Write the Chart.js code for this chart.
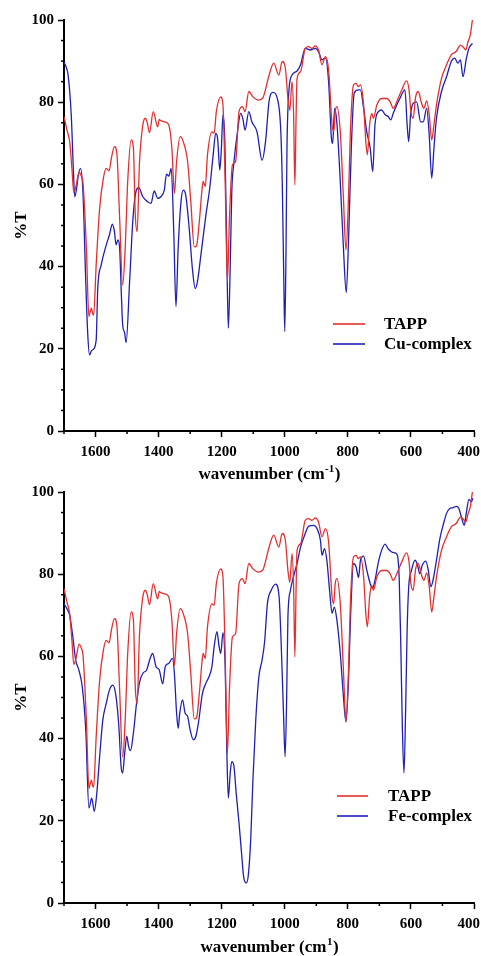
<!DOCTYPE html>
<html><head><meta charset="utf-8">
<script src="https://cdn.jsdelivr.net/npm/chart.js@4.4.1/dist/chart.umd.min.js"></script>
<style>
html,body{margin:0;padding:0;background:#fff;width:481px;height:956px;overflow:hidden;}
.wrap{position:absolute;left:0;width:481px;}
#w1{top:0;height:490px;}
#w2{top:472px;height:484px;}
canvas{display:block;}
</style></head><body>
<div class="wrap" id="w1"><canvas id="c1" width="481" height="490"></canvas></div>
<div class="wrap" id="w2"><canvas id="c2" width="481" height="484"></canvas></div>
<script>
// ---------- data (wavenumber in cm-1, transmittance in %T) ----------
const tappWavenumber = [1700,1690,1682,1675,1669,1662,1652,1645,1640,1634,1629,1621,1617,1613,1609,1606,1598,1587,1575,1566,1557,1550,1540,1532,1524,1514,1506,1498,1487,1480,1474,1468,1461,1450,1442,1436,1429,1417,1403,1398,1393,1379,1368,1358,1350,1343,1332,1322,1308,1298,1287,1280,1271,1263,1259,1252,1245,1231,1224,1217,1203,1196,1189,1182,1175,1166,1156,1145,1134,1126,1114,1101,1082,1069,1050,1035,1019,1008,998,990,984,977,972,968,964,961,950,935,924,914,903,893,882,871,861,850,845,840,835,824,814,806,798,792,782,774,767,760,750,743,738,731,724,719,708,693,677,666,656,645,629,614,606,600,593,585,577,566,559,550,542,534,527,519,503,487,472,456,443,435,426,419,412,405];
const tappTransmittance = [76.5,73,70.4,64,58,59.5,63,62,60.5,53,44.5,27.8,29,29.9,28.5,28.2,40.4,54.2,61.6,63.9,63.3,66.3,69.2,67.2,52.6,35.5,44.5,60.7,70.8,68.9,52.6,48.5,64.7,74.5,76.1,75,72.6,77.7,74,75.8,75.5,75.2,74.5,68.8,57.8,65.5,71.6,70.4,65.5,55.8,44.8,45,50.9,58.2,60.7,59.5,67.2,72.8,72.4,77.7,81.3,79.3,60.7,36.3,52.6,64.7,65.5,77.7,78.9,77.7,82.6,81.3,80.5,81.1,86.5,89.5,86.6,89.9,88.2,80.9,78,85,77,59.9,77,85.8,87.4,93.1,93.5,93.1,93.7,92.7,89.1,91.1,87.8,74.5,72.8,77.7,78.9,72.8,56.6,44,56.6,72.8,84.2,84.6,83.8,84.2,79.3,70.4,67.2,74.5,77.3,76.1,79.3,80.9,80.9,80.1,78.5,80.1,83,85.2,83,77.7,76.1,81.3,82.6,79.7,78.5,80.3,77,70.8,74.5,79.3,85.8,89.1,91.5,92.4,93.9,93.5,92.7,94.7,96.3,100];

const cuWavenumber = [1700,1693,1687,1677,1670,1666,1660,1656,1648,1640,1631,1625,1619,1613,1608,1598,1593,1582,1566,1556,1547,1540,1535,1529,1524,1518,1514,1508,1503,1492,1482,1474,1463,1450,1435,1424,1414,1403,1393,1382,1375,1368,1360,1352,1345,1338,1329,1322,1314,1303,1293,1284,1277,1266,1250,1238,1227,1219,1213,1206,1201,1196,1190,1184,1179,1174,1168,1161,1150,1140,1133,1126,1114,1104,1088,1072,1061,1050,1037,1024,1013,1008,1003,1000,996,993,987,977,961,950,935,919,903,893,882,871,861,852,848,842,835,824,814,805,797,789,780,767,760,750,740,729,721,714,703,693,682,672,664,656,645,635,619,612,607,601,593,582,569,561,550,542,534,527,519,503,487,472,461,451,443,435,424,416,405];
const cuTransmittance = [89.7,88.5,86.6,76.9,63,57,59,61.5,63.9,58.2,36.3,24,18.5,19.5,19.8,22.1,34.7,40.4,45.3,47.7,50.3,48.5,45.3,46.5,45,33,25.8,24,21.5,36.3,50.9,57.4,59.2,57,55.8,55.4,58.4,56.6,57,58.6,62.5,62,63.9,48.5,30.3,44.5,55.8,58.6,57.4,49.3,39.6,34.7,36.3,42.8,52.6,59,67.2,72.4,71.2,63.5,68.8,76.9,70.4,44.5,25,36.3,58.2,65.5,72.8,77.3,76,73.2,77.7,75.2,72.8,65.9,70.4,80.1,82.4,81,73.6,60.7,36.3,24.2,44.5,68.8,82.6,86.6,87.6,89.1,93.1,92.7,93.1,92.3,90.3,90.8,85,71.2,70,78.5,75.2,60.7,44.5,33.7,48.5,68.8,82.2,83,83,78.5,72.8,68.8,63.1,74.5,77.7,78.1,77,76.5,75.7,77.3,79.3,80.9,83,74.5,70.4,77,79.7,80.1,75.2,75.2,78.5,72,61.5,68.8,76.1,82.6,86.2,89.9,90.7,89.5,90.3,86.2,90.7,93.1,94.3];

const feWavenumber = [1700,1690,1682,1672,1663,1653,1642,1631,1621,1612,1604,1596,1587,1577,1566,1556,1545,1535,1526,1519,1514,1508,1501,1495,1489,1480,1470,1461,1450,1438,1427,1419,1408,1398,1387,1379,1368,1356,1350,1343,1338,1333,1324,1316,1308,1300,1290,1282,1274,1261,1250,1240,1231,1224,1215,1208,1203,1196,1189,1184,1179,1173,1168,1161,1154,1145,1137,1130,1122,1116,1108,1101,1092,1082,1072,1064,1055,1043,1029,1018,1011,1004,999,994,990,982,971,961,950,935,924,908,898,887,882,874,866,858,850,843,835,824,814,806,798,791,782,774,766,760,750,740,729,722,714,703,693,682,672,661,651,643,637,632,627,622,617,612,607,598,587,579,572,564,553,545,537,530,519,508,498,487,477,466,456,448,440,431,424,416,408,404];
const feTransmittance = [72.8,71.5,70,64.8,59.1,56.7,52.6,42.1,23.1,25.5,22.3,26.7,35.6,44.5,48.6,51.8,53,50.2,42.9,33.2,31.6,36.1,40.6,38,37.1,41.3,48.6,53.5,55.9,56.7,59.5,60.7,57.5,56.7,53.3,57.5,58.3,59.5,55.9,46.2,42.5,46.2,49.4,46.2,45.4,42.1,39.7,40.5,43.7,51,53.5,55.1,57.5,62.3,66,62.3,60.7,65.8,57.5,38,25.5,31.6,34.4,33.2,26.7,19.4,12.1,6.1,4.9,6.5,15.4,30,44.5,55.1,59.1,63.5,72.9,76.1,77.6,74.5,62.3,46.2,35.6,50,69.6,76.1,79.8,82.6,86.6,89.9,91.7,91.9,91.1,88.3,84.6,86.2,83,76.1,70.5,72,69,60.7,50.2,44.1,54,70.5,82.6,81.8,79.2,83.4,84.4,81,77.7,76.5,78.5,83,85.8,87.3,86.2,85.4,85.2,84.6,78.5,62.3,42,31.6,46.2,66.5,76.9,81,83.4,82.2,80.1,82.2,83.2,81,76.9,78.5,83.4,88.7,91.9,94.8,96,96.2,96.5,96,93.9,91.9,95.1,98.2,97.6,98.5];

const xMajorTicks = [1600,1400,1200,1000,800,600,400];
const xMinorTicks = [1700,1500,1300,1100,900,700,500];
const yMajorTicks = [0,20,40,60,80,100];
const yMinorTicks = [5,10,15,25,30,35,45,50,55,65,70,75,85,90,95];

// ---------- helpers ----------
const RED = '#e3302f';
const BLUE = '#1f1fb5';
const SERIF = '"Liberation Serif","Times New Roman",serif';

function pts(xs, ys){ return xs.map((x,i)=>({x:x, y:ys[i]})); }

const decorPlugin = {
  id: 'decor',
  afterDraw(chart, args, opts) {
    const ctx = chart.ctx;
    const xs = chart.scales.x, ys = chart.scales.y;
    const area = chart.chartArea;
    ctx.save();
    ctx.strokeStyle = '#000';
    ctx.lineWidth = 1.5;
    yMinorTicks.forEach(v => {
      const py = ys.getPixelForValue(v);
      ctx.beginPath(); ctx.moveTo(area.left, py); ctx.lineTo(area.left - 3, py); ctx.stroke();
    });
    xMinorTicks.forEach(v => {
      const px = xs.getPixelForValue(v);
      ctx.beginPath(); ctx.moveTo(px, area.bottom); ctx.lineTo(px, area.bottom + 3); ctx.stroke();
    });
    // x tick labels
    ctx.fillStyle = '#000';
    ctx.font = 'bold 15px ' + SERIF;
    ctx.textAlign = 'center';
    ctx.textBaseline = 'middle';
    xs.ticks.forEach(t => {
      const s = String(t.value);
      const w = ctx.measureText(s).width;
      let px = xs.getPixelForValue(t.value);
      px = Math.min(px, chart.width - 1 - w / 2);
      ctx.fillText(s, px, area.bottom + 21);
    });
    // x title with superscript
    const mainTxt = 'wavenumber (cm';
    const supTxt = opts.sup;
    const endTxt = ')';
    const mainFont = 'bold 17px ' + SERIF;
    const supFont = 'bold 11px ' + SERIF;
    ctx.font = mainFont; const w1 = ctx.measureText(mainTxt).width; const w3 = ctx.measureText(endTxt).width;
    ctx.font = supFont; const w2 = ctx.measureText(supTxt).width;
    const total = w1 + w2 + w3;
    let x0 = (area.left + area.right) / 2 - total / 2;
    const ty = area.bottom + opts.titleOffset;
    ctx.textAlign = 'left';
    ctx.textBaseline = 'middle';
    ctx.font = mainFont; ctx.fillText(mainTxt, x0, ty);
    ctx.font = supFont; ctx.fillText(supTxt, x0 + w1 + 0.5, ty - 6);
    ctx.font = mainFont; ctx.fillText(endTxt, x0 + w1 + w2 + 1, ty);
    // legend
    const lg = opts.legend;
    ctx.font = 'bold 17px ' + SERIF;
    chart.data.datasets.forEach((ds, i) => {
      const y = lg.y + i * lg.dy;
      ctx.strokeStyle = ds.borderColor;
      ctx.lineWidth = 1.6;
      ctx.beginPath(); ctx.moveTo(lg.x0, y); ctx.lineTo(lg.x1, y); ctx.stroke();
      ctx.fillStyle = '#000';
      ctx.fillText(ds.label, lg.tx, y + 1);
    });
    ctx.restore();
  }
};

function makeChart(canvasId, complexLabel, complexWn, complexT, bottomHeight, decorOpts) {
  return new Chart(document.getElementById(canvasId), {
    type: 'line',
    data: {
      datasets: [
        { label: 'TAPP', data: pts(tappWavenumber, tappTransmittance), borderColor: RED, borderWidth: 1.3,
          pointRadius: 0, cubicInterpolationMode: 'monotone', fill: false },
        { label: complexLabel, data: pts(complexWn, complexT), borderColor: BLUE, borderWidth: 1.3,
          pointRadius: 0, cubicInterpolationMode: 'monotone', fill: false }
      ]
    },
    options: {
      responsive: false,
      animation: false,
      parsing: true,
      layout: { padding: { top: 20, right: 7, left: 0, bottom: 0 } },
      plugins: { legend: { display: false }, tooltip: { enabled: false }, decor: decorOpts },
      scales: {
        x: {
          type: 'linear', min: 400, max: 1700, reverse: true,
          afterBuildTicks: s => { s.ticks = xMajorTicks.map(v => ({ value: v })); },
          afterFit: s => { s.height = bottomHeight; s.paddingLeft = 0; s.paddingRight = 0; },
          ticks: { display: false },
          grid: { display: true, drawOnChartArea: false, drawTicks: true, tickLength: 6, tickColor: '#000', tickWidth: 1.5 },
          border: { display: true, color: '#000', width: 2 }
        },
        y: {
          type: 'linear', min: 0, max: 100,
          afterBuildTicks: s => { s.ticks = yMajorTicks.map(v => ({ value: v })); },
          afterFit: s => { s.width = 64; s.paddingTop = 0; s.paddingBottom = 0; },
          ticks: { color: '#000', padding: 4, font: { family: SERIF, weight: 'bold', size: 15 } },
          grid: { display: true, drawOnChartArea: false, drawTicks: true, tickLength: 6, tickColor: '#000', tickWidth: 1.5 },
          border: { display: true, color: '#000', width: 2 },
          title: { display: true, text: '%T', color: '#000', padding: { top: 11, bottom: 0 },
                   font: { family: SERIF, weight: 'bold', size: 17 } }
        }
      }
    },
    plugins: [decorPlugin]
  });
}

makeChart('c1', 'Cu-complex', cuWavenumber, cuTransmittance, 59,
  { sup: '-1', titleOffset: 44, legend: { x0: 333, x1: 365, tx: 384, y: 324, dy: 20 } });
makeChart('c2', 'Fe-complex', feWavenumber, feTransmittance, 53,
  { sup: '1', titleOffset: 45, legend: { x0: 337, x1: 368, tx: 388, y: 324, dy: 20 } });
</script>
</body></html>
